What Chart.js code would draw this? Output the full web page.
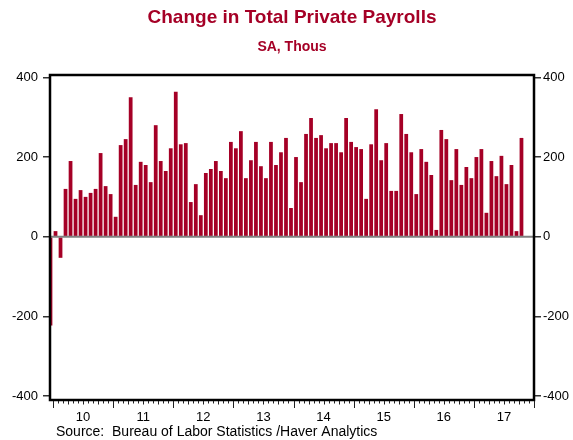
<!DOCTYPE html>
<html>
<head>
<meta charset="utf-8">
<script src="https://cdn.jsdelivr.net/npm/chart.js@4.4.0/dist/chart.umd.min.js"></script>
<style>
  body { margin: 0; background: #fff; }
</style>
</head>
<body>
<canvas id="payrollChart" width="573" height="440"></canvas>
<script>
// monthly change, Dec 2009 .. Oct 2017 (month index -1 = Dec 2009, 0 = Jan 2010)
const firstMonthIndex = -1;
const payrollChanges = [
    -223,
    14, -53, 120, 190, 95, 117, 100, 110, 120, 210, 127, 107,
    50, 230, 245, 350, 130, 188, 180, 137, 280, 190, 165, 222,
    364, 232, 235, 87, 132, 54, 160, 170, 190, 165, 147, 238,
    222, 265, 147, 192, 238, 177, 147, 238, 180, 212, 248, 72,
    200, 137, 258, 298, 248, 255, 222, 235, 235, 212, 298, 238,
    225, 220, 95, 232, 320, 192, 235, 115, 115, 308, 258, 212,
    107, 220, 188, 155, 17, 268, 245, 142, 220, 130, 175, 147,
    200, 220, 60, 190, 152, 203, 132, 180, 14, 248
];
const yearLabels = ["10", "11", "12", "13", "14", "15", "16", "17"];
const yTicks = [-400, -200, 0, 200, 400];

const red = "#a50026";
const fontFamily = "'Liberation Sans', Arial, sans-serif";
Chart.defaults.font.family = fontFamily;

const points = payrollChanges.map((v, i) => ({ x: firstMonthIndex + i + 0.5, y: v }));

const framePlugin = {
    id: "frame",
    afterDatasetsDraw(chart) {
        const { ctx, chartArea, scales } = chart;
        const { left, right, top, bottom } = chartArea;
        ctx.save();

        // zero line
        const y0 = scales.y.getPixelForValue(0);
        ctx.strokeStyle = "#808080";
        ctx.lineWidth = 2;
        ctx.beginPath();
        ctx.moveTo(left, y0);
        ctx.lineTo(right, y0);
        ctx.stroke();

        // box
        ctx.strokeStyle = "#000";
        ctx.lineWidth = 2.5;
        ctx.strokeRect(left, top, right - left, bottom - top);

        // month / year ticks under the axis
        ctx.lineWidth = 1;
        ctx.strokeStyle = "#222";
        for (let m = 0; m <= yearLabels.length * 12; m++) {
            const px = Math.round(scales.x.getPixelForValue(m)) + 0.5;
            const len = m % 12 === 0 ? 7 : (m % 3 === 0 ? 3.5 : 2.5);
            ctx.beginPath();
            ctx.moveTo(px, bottom + 1);
            ctx.lineTo(px, bottom + 1 + len);
            ctx.stroke();
        }

        // source note
        ctx.fillStyle = "#000";
        ctx.font = "14px " + fontFamily;
        ctx.textBaseline = "alphabetic";
        ctx.fillText("Source:  Bureau of Labor Statistics /Haver Analytics", 56, 436);
        ctx.restore();
    }
};

const yAxis = (position, width, pad) => ({
    position: position,
    min: -410,
    max: 406,
    afterBuildTicks: s => { s.ticks = yTicks.map(v => ({ value: v })); },
    afterFit: s => { s.width = width; },
    grid: { drawOnChartArea: false, tickLength: 7, color: "#333", lineWidth: 1.5 },
    border: { display: false },
    ticks: { color: "#000", font: { size: 13 }, padding: pad }
});

new Chart(document.getElementById("payrollChart"), {
    type: "bar",
    data: {
        datasets: [{
            data: points,
            backgroundColor: red,
            borderWidth: 0,
            barPercentage: 0.75,
            categoryPercentage: 1
        }]
    },
    options: {
        responsive: false,
        animation: false,
        layout: { padding: 0 },
        scales: {
            x: {
                type: "linear",
                offset: false,
                min: -0.6,
                max: 96,
                afterBuildTicks: s => { s.ticks = yearLabels.map((l, i) => ({ value: i * 12 + 6 })); },
                afterFit: s => { s.height = 40; },
                grid: { display: false, drawTicks: false },
                border: { display: false },
                ticks: {
                    color: "#000",
                    font: { size: 13 },
                    padding: 10,
                    autoSkip: false,
                    maxRotation: 0,
                    callback: v => yearLabels[Math.round((v - 6) / 12)]
                }
            },
            y: yAxis("left", 50, 5),
            y2: yAxis("right", 39, 2)
        },
        plugins: {
            legend: { display: false },
            tooltip: { enabled: false },
            title: {
                display: true,
                fullSize: false,
                text: "Change in Total Private Payrolls",
                color: red,
                font: { size: 19, weight: "bold" },
                padding: { top: 6.6, bottom: 2 }
            },
            subtitle: {
                display: true,
                fullSize: false,
                text: "SA, Thous",
                color: red,
                font: { size: 14, weight: "bold" },
                padding: { top: 7.2, bottom: 19.6 }
            }
        }
    },
    plugins: [framePlugin]
});
</script>
</body>
</html>
